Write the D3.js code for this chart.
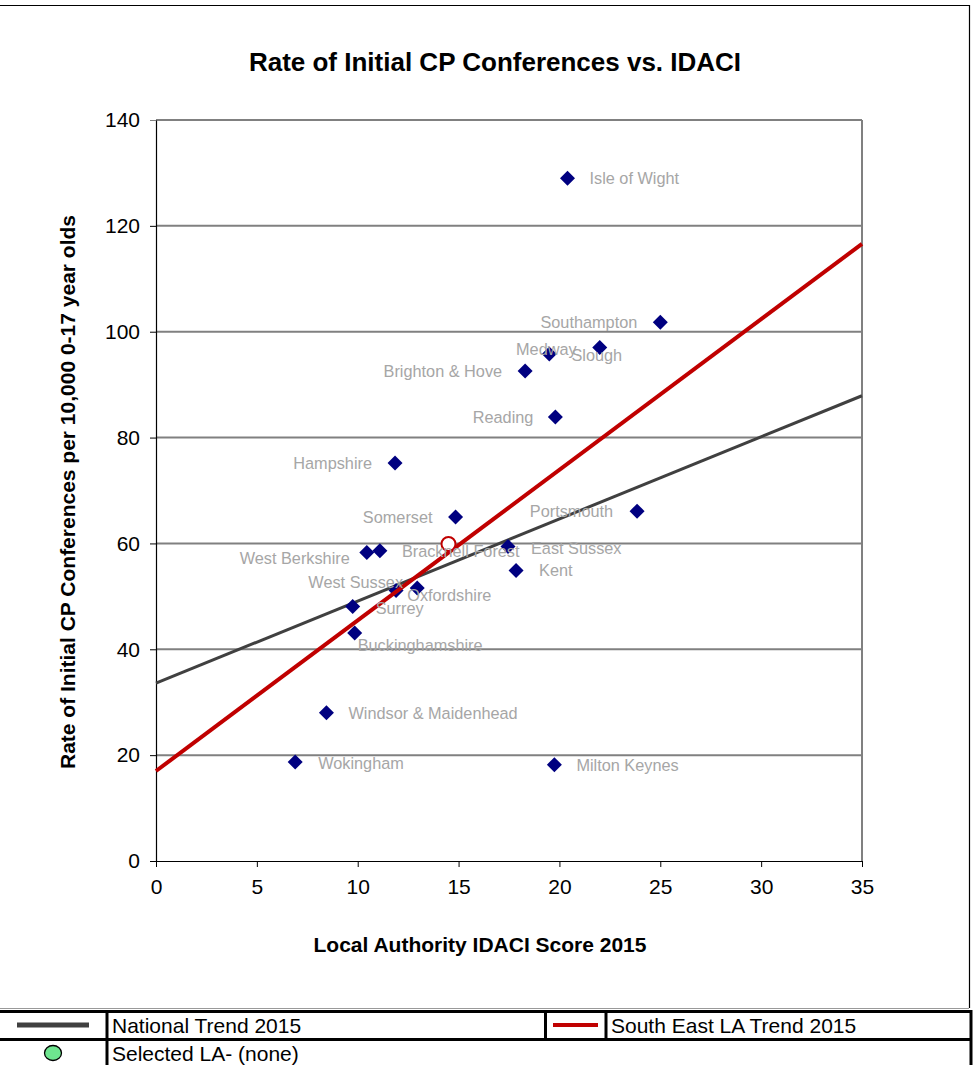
<!DOCTYPE html>
<html><head><meta charset="utf-8">
<script src="https://cdn.jsdelivr.net/npm/d3@7"></script>
<style>body{margin:0;background:#fff}svg{display:block;font-family:Arial,"Liberation Sans",sans-serif}</style>
</head><body>
<script>
// ---- data ----
const authorities = ["Isle of Wight","Southampton","Slough","Medway","Brighton & Hove","Reading","Hampshire","Somerset","Portsmouth","West Berkshire","Bracknell Forest","East Sussex","Kent","West Sussex","Oxfordshire","Surrey","Buckinghamshire","Windsor & Maidenhead","Wokingham","Milton Keynes"];
const idaci = [20.4,25.0,22.0,19.5,18.3,19.8,11.85,14.85,23.85,10.45,11.1,17.45,17.85,11.9,12.95,9.75,9.85,8.45,6.9,19.75];
const cpRate = [129.0,101.8,97.0,95.8,92.6,83.9,75.2,65.0,66.1,58.3,58.6,59.4,54.9,51.1,51.6,48.1,43.1,28.0,18.7,18.2];
// label placement: [anchor, dx px, dy px]
const labelPlace = [["start",22,0],["end",-23,0],["middle",-3,8],["middle",-3,-5],["end",-23,0],["end",-22,0],["end",-23,0],["end",-23,0],["end",-24,0],["end",-17,6],["start",22,0],["start",23,2],["start",23,0],["end",7,-8],["start",-10,7],["start",23,2],["start",3,12],["start",22,0],["start",23,1],["start",22,1]];
const selectedAvg = [14.5, 59.9];
const nationalTrend = [[0,33.6],[35,87.9]];
const seTrend = [[0,17.0],[35,116.6]];
const xTicks = [0,5,10,15,20,25,30,35];
const yTicks = [0,20,40,60,80,100,120,140];
const legendRow1 = ["National Trend 2015","South East LA Trend 2015"];
const legendRow2 = "Selected LA- (none)";

const W=977,H=1065;
const svg=d3.select("body").append("svg").attr("width",W).attr("height",H);
const x=d3.scaleLinear().domain([0,35]).range([156,862]);
const y=d3.scaleLinear().domain([0,140]).range([861,120]);

// chart frame
svg.append("path").attr("d","M0,5.5H969.5V1008").attr("fill","none").attr("stroke","#000").attr("stroke-width",1.2);
svg.append("line").attr("x1",0).attr("x2",969).attr("y1",1008.5).attr("y2",1008.5).attr("stroke","#999").attr("stroke-width",1);

// title
svg.append("text").attr("x",495).attr("y",71).attr("text-anchor","middle").attr("font-size",26).attr("font-weight","bold").text("Rate of Initial CP Conferences vs. IDACI");

// gridlines
svg.append("g").selectAll("line").data(yTicks.filter(d=>d>0)).join("line")
 .attr("x1",x(0)).attr("x2",x(35)).attr("y1",d=>y(d)).attr("y2",d=>y(d))
 .attr("stroke","#808080").attr("stroke-width",2);
// right border of plot
svg.append("line").attr("x1",x(35)).attr("x2",x(35)).attr("y1",y(140)).attr("y2",y(0)).attr("stroke","#808080").attr("stroke-width",2);

// axes
const gy=svg.append("g").attr("transform",`translate(${x(0)},0)`).call(d3.axisLeft(y).tickValues(yTicks).tickSize(6).tickPadding(10).tickSizeOuter(0));
const gx=svg.append("g").attr("transform",`translate(0,${y(0)})`).call(d3.axisBottom(x).tickValues(xTicks).tickSize(6).tickPadding(12).tickSizeOuter(0));
[gx,gy].forEach(g=>{g.selectAll("text").attr("font-size",21).attr("font-family","Arial, 'Liberation Sans', sans-serif").attr("fill","#000");
 g.select(".domain").attr("stroke","#000").attr("stroke-width",1.2);g.selectAll(".tick line").attr("stroke","#000");});
gy.selectAll(".tick").filter(d=>d===140).select("line").attr("stroke","#808080");

// axis titles
svg.append("text").attr("x",480).attr("y",952).attr("text-anchor","middle").attr("font-size",21).attr("font-weight","bold").text("Local Authority IDACI Score 2015");
svg.append("text").attr("transform","translate(74.5,492) rotate(-90)").attr("text-anchor","middle").attr("font-size",21).attr("font-weight","bold").text("Rate of Initial CP Conferences per 10,000 0-17 year olds");

// trend lines
const line=d3.line().x(d=>x(d[0])).y(d=>y(d[1]));
svg.append("path").attr("d",line(nationalTrend)).attr("stroke","#404040").attr("stroke-width",3).attr("fill","none");

// points
const pts=authorities.map((n,i)=>({n,x:idaci[i],y:cpRate[i],p:labelPlace[i]}));
svg.append("g").selectAll("path").data(pts).join("path")
 .attr("transform",d=>`translate(${x(d.x)},${y(d.y)})`)
 .attr("d","M0,-7.5L7.5,0L0,7.5L-7.5,0Z").attr("fill","#000080");
svg.append("path").attr("d",line(seTrend)).attr("stroke","#C00000").attr("stroke-width",4).attr("fill","none");
svg.append("circle").attr("cx",x(selectedAvg[0])).attr("cy",y(selectedAvg[1])).attr("r",7).attr("fill","#fff").attr("stroke","#C00000").attr("stroke-width",2);

// labels
svg.append("g").selectAll("text").data(pts).join("text")
 .attr("x",d=>x(d.x)+d.p[1]).attr("y",d=>y(d.y)+d.p[2]).attr("dy","0.35em")
 .attr("text-anchor",d=>d.p[0]).attr("font-size",16.3).attr("fill","#A6A6A6").text(d=>d.n);

// legend table
const lg=svg.append("g");
const bl=(x1,y1,x2,y2)=>lg.append("line").attr("x1",x1).attr("y1",y1).attr("x2",x2).attr("y2",y2).attr("stroke","#000").attr("stroke-width",3);
bl(0,1011.5,972,1011.5); bl(0,1039.5,972,1039.5);
bl(107,1011,107,1065); bl(545.5,1011,545.5,1039.5); bl(606,1011,606,1039.5); bl(971,1010,971,1065);
lg.append("line").attr("x1",17).attr("x2",89).attr("y1",1025).attr("y2",1025).attr("stroke","#404040").attr("stroke-width",5);
lg.append("line").attr("x1",553).attr("x2",598).attr("y1",1025).attr("y2",1025).attr("stroke","#C00000").attr("stroke-width",4);
lg.append("text").attr("x",112).attr("y",1033).attr("font-size",21).text(legendRow1[0]);
lg.append("text").attr("x",611).attr("y",1033).attr("font-size",21).text(legendRow1[1]);
lg.append("ellipse").attr("cx",53).attr("cy",1053).attr("rx",8.5).attr("ry",7.5).attr("fill","#6EE58F").attr("stroke","#000").attr("stroke-width",1.3);
lg.append("text").attr("x",112).attr("y",1061).attr("font-size",21).text(legendRow2);
</script>
</body></html>
